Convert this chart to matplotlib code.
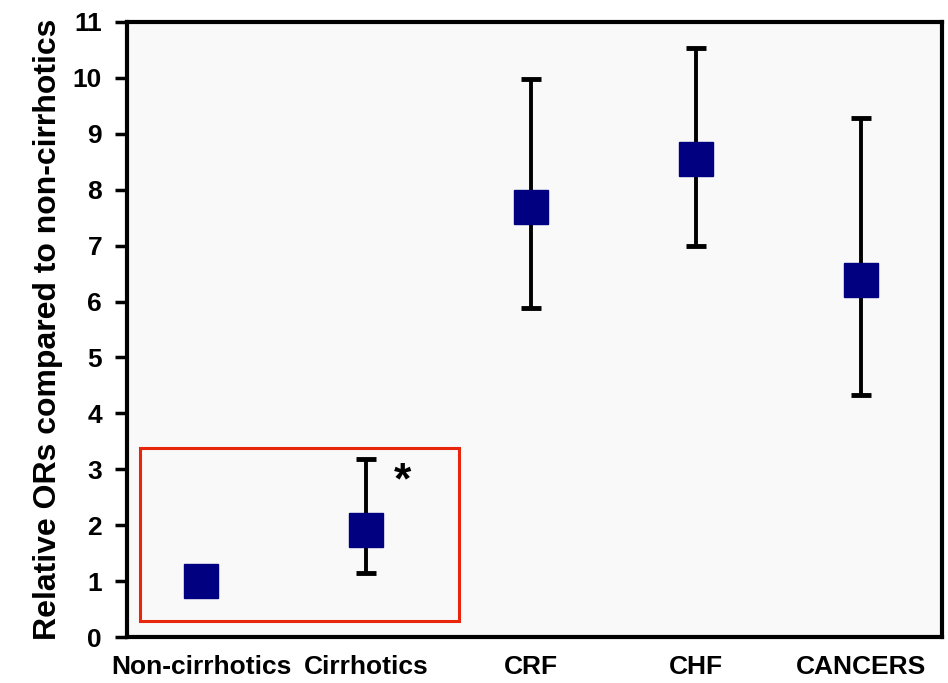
import matplotlib
matplotlib.use("Agg")
import matplotlib.pyplot as plt
from matplotlib.patches import Rectangle

categories = ["Non-cirrhotics", "Cirrhotics", "CRF", "CHF", "CANCERS"]
or_values = [1.0, 1.91, 7.69, 8.55, 6.39]
ci_lower = [1.0, 1.14, 5.89, 7.0, 4.33]
ci_upper = [1.0, 3.18, 9.98, 10.54, 9.28]
y_ticks = list(range(0, 12))

plt.rcParams['font.family'] = ['Liberation Sans', 'DejaVu Sans']
plt.rcParams['font.weight'] = 'bold'

fig = plt.figure(figsize=(9.48, 6.83), dpi=100)
ax = fig.add_axes([0.134, 0.0673, 0.8597, 0.9005])
ax.set_facecolor('#f9f9f9')

x = list(range(len(categories)))
lower_err = [v - l for v, l in zip(or_values, ci_lower)]
upper_err = [u - v for v, u in zip(or_values, ci_upper)]

for xi, v, le, ue in zip(x, or_values, lower_err, upper_err):
    if le > 0 or ue > 0:
        ax.errorbar([xi], [v], yerr=[[le], [ue]], fmt='none', ecolor='black',
                    elinewidth=2.8, capsize=7, capthick=3.5, zorder=2)
ax.plot(x, or_values, linestyle='none', marker='s', markersize=24,
        color='#000080', markeredgecolor='#000080', zorder=3)

ax.add_patch(Rectangle((-0.372, 0.286), 1.934, 3.094, fill=False,
                       edgecolor='#e8260c', linewidth=2.2, zorder=4))
ax.text(1.222, 2.78, '*', fontsize=32, fontweight='bold', ha='center', va='center')

ax.set_xlim(-0.451, 4.491)
ax.set_ylim(0, 11)
ax.set_yticks(y_ticks)
ax.set_yticklabels([str(t) for t in y_ticks], fontsize=19, fontweight='bold')
ax.set_xticks(x)
ax.set_xticklabels(categories, fontsize=19, fontweight='bold')
ax.tick_params(axis='y', direction='out', length=9, width=2.5, pad=9)
ax.tick_params(axis='x', length=0, pad=13)
for s in ax.spines.values():
    s.set_linewidth(3)
ax.set_ylabel('Relative ORs compared to non-cirrhotics', fontsize=23,
              fontweight='bold', labelpad=7)

fig.savefig('out.png', dpi=100, facecolor='white')
